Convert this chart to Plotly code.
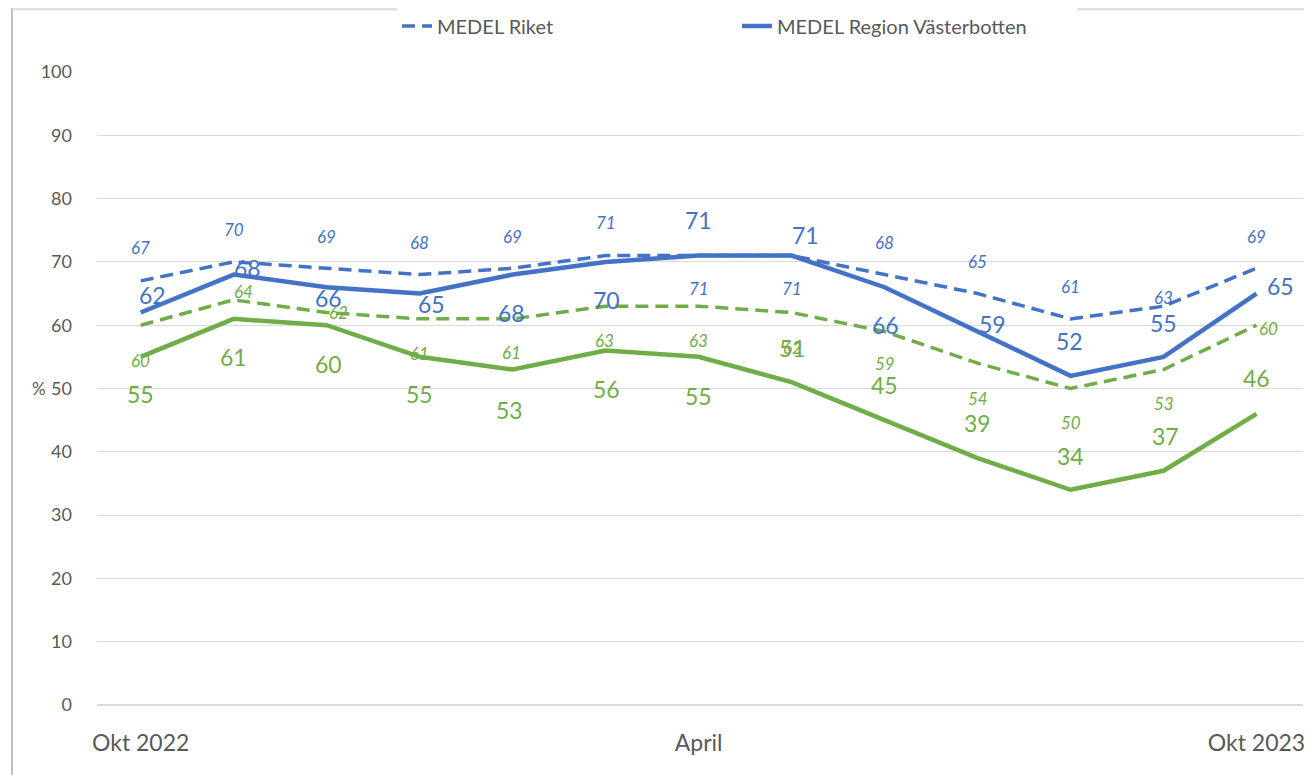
import plotly.graph_objects as go

months = ["Okt 2022", "Nov", "Dec", "Jan", "Feb", "Mar", "April",
          "Maj", "Jun", "Jul", "Aug", "Sep", "Okt 2023"]
tick_labels = ["Okt 2022", "April", "Okt 2023"]

riket_blue = [67, 70, 69, 68, 69, 71, 71, 71, 68, 65, 61, 63, 69]
region_blue = [62, 68, 66, 65, 68, 70, 71, 71, 66, 59, 52, 55, 65]
riket_green = [60, 64, 62, 61, 61, 63, 63, 62, 59, 54, 50, 53, 60]
region_green = [55, 61, 60, 55, 53, 56, 55, 51, 45, 39, 34, 37, 46]

BLUE = "#4472C4"
GREEN = "#70AD47"
FONT = "Lato, Open Sans, sans-serif"

# label offsets in pixels (dx, dy), dy positive = up
off_riket_blue = [(0, 33), (0, 32), (0, 32), (0, 32), (0, 32), (0, 33), (0, -33),
                  (0, -33), (0, 32), (0, 32), (0, 32), (0, 9), (0, 32)]
off_region_blue = [(12, 18), (14, 7), (2, -11), (12, -10), (-1, -38), (1, -38), (0, 36),
                   (14, 21), (1, -38), (15, 8), (-1, 35), (0, 34), (24, 8)]
off_riket_green = [(0, -35), (10, 8), (12, 0), (0, -35), (-1, -34), (-1, -34), (0, -34),
                   (1, -35), (0, -32), (0, -35), (0, -34), (0, -34), (12, -3)]
off_region_green = [(0, -37), (0, -38), (2, -39), (0, -37), (-3, -40), (1, -38), (0, -39),
                    (1, 34), (0, 35), (0, 35), (0, 34), (2, 35), (0, 36)]

DASH = "13px,7px"

fig = go.Figure()
fig.add_trace(go.Scatter(x=months, y=riket_blue, mode="lines", name="MEDEL Riket",
                         line=dict(color=BLUE, width=3.5, dash=DASH)))
fig.add_trace(go.Scatter(x=months, y=region_blue, mode="lines", name="MEDEL Region Västerbotten",
                         line=dict(color=BLUE, width=4.5)))
fig.add_trace(go.Scatter(x=months, y=riket_green, mode="lines", showlegend=False,
                         line=dict(color=GREEN, width=3.5, dash=DASH)))
fig.add_trace(go.Scatter(x=months, y=region_green, mode="lines", showlegend=False,
                         line=dict(color=GREEN, width=4.5)))

annotations = []


def add_labels(values, offsets, color, size, italic):
    for m, v, (dx, dy) in zip(months, values, offsets):
        t = f"<i>{v}</i>" if italic else str(v)
        annotations.append(dict(x=m, y=v, xref="x", yref="y", text=t, showarrow=False,
                                xshift=dx, yshift=dy,
                                font=dict(family=FONT, size=size, color=color)))


add_labels(riket_blue, off_riket_blue, BLUE, 17, True)
add_labels(region_blue, off_region_blue, BLUE, 23, False)
add_labels(riket_green, off_riket_green, GREEN, 17, True)
add_labels(region_green, off_region_green, GREEN, 23, False)

annotations.append(dict(x=-0.0555, y=50, xref="paper", yref="y", text="%", showarrow=False,
                        font=dict(family=FONT, size=17, color="#595959")))

fig.update_layout(
    width=1304, height=767,
    margin=dict(l=89, r=9, t=64, b=70, autoexpand=False),
    paper_bgcolor="white", plot_bgcolor="white",
    font=dict(family=FONT, color="#595959"),
    showlegend=True,
    legend=dict(orientation="h", x=389 / 1304, xanchor="left", xref="container",
                y=1 - 18 / 767, yanchor="middle", yref="container",
                font=dict(family=FONT, size=20, color="#595959"),
                entrywidth=295),
    annotations=annotations,
    shapes=[
        dict(type="line", xref="paper", yref="paper", x0=-0.0705, x1=-0.0705, y0=-0.12, y1=1.101,
             line=dict(color="#BFBFBF", width=2)),
        dict(type="line", xref="paper", yref="paper", x0=-0.0705, x1=1.01, y0=1.099, y1=1.099,
             line=dict(color="#D9D9D9", width=2)),
    ],
)
fig.update_xaxes(type="category", categoryorder="array", categoryarray=months,
                 range=[-0.47, 12.5], tickmode="array", tickvals=tick_labels, ticktext=tick_labels,
                 showgrid=False, zeroline=False, showline=False, ticks="",
                 ticklabelstandoff=22,
                 tickfont=dict(family=FONT, size=23, color="#595959"))
fig.update_yaxes(range=[0, 100], dtick=10, showgrid=True, gridcolor="#D9D9D9", gridwidth=1,
                 zeroline=True, zerolinecolor="#D9D9D9", zerolinewidth=2, ticks="",
                 ticklabelstandoff=24,
                 tickfont=dict(family=FONT, size=18, color="#595959"))

fig.write_html("out.html")
